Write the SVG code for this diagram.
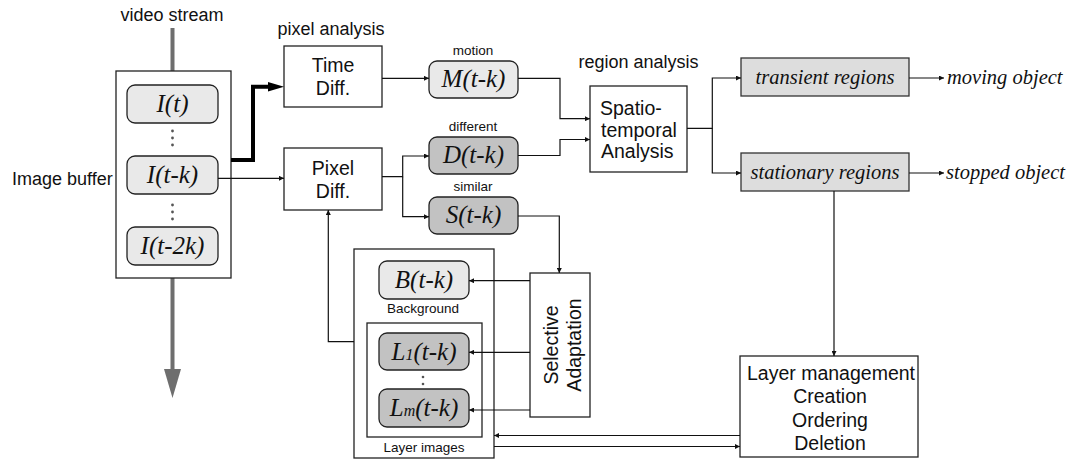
<svg xmlns="http://www.w3.org/2000/svg" width="1073" height="459" viewBox="0 0 1073 459">
  <defs>
    <marker id="arr" viewBox="0 0 10 10" refX="10" refY="5" markerWidth="8" markerHeight="5" markerUnits="userSpaceOnUse" orient="auto">
      <path d="M0,0 L10,5 L0,10 Z" fill="#111"/>
    </marker>
  </defs>
  <style>
    .box { fill: #fff; stroke: #222; stroke-width: 1.3; }
    .light { fill: #e9e9e9; stroke: #222; stroke-width: 1.3; }
    .dark { fill: #c2c2c2; stroke: #222; stroke-width: 1.3; }
    .mid { fill: #dddddd; stroke: #333; stroke-width: 1.3; }
    .wire { fill: none; stroke: #111; stroke-width: 1.2; }
    .sans { font-family: "Liberation Sans", Arial, sans-serif; font-size: 19.5px; fill: #111; }
    .head { font-family: "Liberation Sans", Arial, sans-serif; font-size: 18px; fill: #111; }
    .small { font-family: "Liberation Sans", Arial, sans-serif; font-size: 13.5px; fill: #111; }
    .math { font-family: "Liberation Serif", "Times New Roman", serif; font-style: italic; font-size: 25px; fill: #111; }
    .ital { font-family: "Liberation Serif", "Times New Roman", serif; font-style: italic; font-size: 20.5px; fill: #111; }
    .dots { fill: #555; }
  </style>

  <rect width="1073" height="459" fill="#fff"/>

  <!-- video stream passing through the buffer -->
  <g id="stream">
    <text class="head" x="172" y="21" text-anchor="middle" font-size="19">video stream</text>
    <line x1="172.5" y1="28" x2="172.5" y2="372" stroke="#6e6e6e" stroke-width="4"/>
    <polygon points="164,369 181,369 172.5,398" fill="#6e6e6e"/>
  </g>

  <!-- image buffer -->
  <g id="image-buffer">
    <text class="head" x="12" y="185" font-size="17.5">Image buffer</text>
    <rect class="box" x="116" y="71" width="115" height="207"/>
    <rect class="light" x="127" y="85" width="91" height="38" rx="8"/>
    <text class="math" x="172.5" y="112" text-anchor="middle">I(t)</text>
    <circle class="dots" cx="172.5" cy="131" r="1.4"/>
    <circle class="dots" cx="172.5" cy="138" r="1.4"/>
    <circle class="dots" cx="172.5" cy="145" r="1.4"/>
    <rect class="light" x="127" y="156" width="91" height="38" rx="8"/>
    <text class="math" x="172.5" y="183" text-anchor="middle">I(t-k)</text>
    <circle class="dots" cx="172.5" cy="205" r="1.4"/>
    <circle class="dots" cx="172.5" cy="212" r="1.4"/>
    <circle class="dots" cx="172.5" cy="219" r="1.4"/>
    <rect class="light" x="127" y="227" width="91" height="38" rx="8"/>
    <text class="math" x="172.5" y="254" text-anchor="middle">I(t-2k)</text>
  </g>

  <!-- pixel analysis -->
  <g id="time-diff">
    <text class="head" x="331" y="35" text-anchor="middle">pixel analysis</text>
    <rect class="box" x="284" y="46" width="98" height="61"/>
    <text class="sans" x="333" y="72" text-anchor="middle">Time</text>
    <text class="sans" x="333" y="95" text-anchor="middle">Diff.</text>
  </g>
  <g id="pixel-diff">
    <rect class="box" x="284" y="148" width="98" height="62"/>
    <text class="sans" x="333" y="175" text-anchor="middle">Pixel</text>
    <text class="sans" x="333" y="198" text-anchor="middle">Diff.</text>
  </g>

  <g id="motion">
    <text class="small" x="473" y="55" text-anchor="middle">motion</text>
    <rect class="light" x="429" y="61" width="89" height="37" rx="8"/>
    <text class="math" x="473.5" y="87" text-anchor="middle">M(t-k)</text>
  </g>
  <g id="different">
    <text class="small" x="473" y="131" text-anchor="middle">different</text>
    <rect class="dark" x="429" y="137" width="89" height="37" rx="8"/>
    <text class="math" x="473.5" y="163" text-anchor="middle">D(t-k)</text>
  </g>
  <g id="similar">
    <text class="small" x="473" y="191" text-anchor="middle">similar</text>
    <rect class="dark" x="429" y="197" width="89" height="37" rx="8"/>
    <text class="math" x="473.5" y="223" text-anchor="middle">S(t-k)</text>
  </g>

  <!-- region analysis -->
  <g id="spatio-temporal">
    <text class="head" x="638.5" y="68" text-anchor="middle" font-size="17.5">region analysis</text>
    <rect class="box" x="590" y="86" width="97" height="86"/>
    <text class="sans" x="600" y="115">Spatio-</text>
    <text class="sans" x="601" y="137">temporal</text>
    <text class="sans" x="601" y="158">Analysis</text>
  </g>
  <g id="transient">
    <rect class="mid" x="741" y="58" width="168" height="38"/>
    <text class="ital" x="825" y="84" text-anchor="middle">transient regions</text>
    <text class="ital" x="947" y="84">moving object</text>
  </g>
  <g id="stationary">
    <rect class="mid" x="741" y="153" width="168" height="38"/>
    <text class="ital" x="825" y="179" text-anchor="middle">stationary regions</text>
    <text class="ital" x="946" y="179">stopped object</text>
  </g>

  <!-- layer images -->
  <g id="layer-images">
    <rect class="box" x="354" y="249" width="140" height="209"/>
    <rect class="light" x="379" y="261" width="90" height="38" rx="8"/>
    <text class="math" x="424" y="288" text-anchor="middle">B(t-k)</text>
    <text class="small" x="423" y="313" text-anchor="middle" font-size="13.5">Background</text>
    <rect class="box" x="367" y="323" width="115" height="114"/>
    <rect class="dark" x="379" y="333" width="90" height="37" rx="8"/>
    <text class="math" x="424" y="360" text-anchor="middle">L<tspan font-size="16">1</tspan>(t-k)</text>
    <circle class="dots" cx="423" cy="377" r="1.3"/>
    <circle class="dots" cx="423" cy="384" r="1.3"/>
    <rect class="dark" x="379" y="389" width="90" height="38" rx="8"/>
    <text class="math" x="424" y="416" text-anchor="middle">L<tspan font-size="16">m</tspan>(t-k)</text>
    <text class="small" x="424" y="452" text-anchor="middle" font-size="13.5">Layer images</text>
  </g>

  <g id="selective-adaptation">
    <rect class="box" x="530" y="273" width="60" height="144"/>
    <text class="sans" transform="translate(558,345) rotate(-90)" text-anchor="middle" font-size="20">Selective</text>
    <text class="sans" transform="translate(581,345) rotate(-90)" text-anchor="middle" font-size="20">Adaptation</text>
  </g>

  <g id="layer-management">
    <rect class="box" x="740" y="356" width="178" height="101"/>
    <text class="sans" x="831" y="380" text-anchor="middle">Layer management</text>
    <text class="sans" x="830" y="403" text-anchor="middle">Creation</text>
    <text class="sans" x="830" y="427" text-anchor="middle">Ordering</text>
    <text class="sans" x="830" y="450" text-anchor="middle">Deletion</text>
  </g>

  <!-- connectors -->
  <g id="connectors">
    <path d="M231,160 H253 V86.7 H270" fill="none" stroke="#000" stroke-width="4"/>
    <polygon points="268,82 284,86.7 268,91.4" fill="#000"/>
    <path class="wire" d="M218,178.3 H284" marker-end="url(#arr)"/>
    <path class="wire" d="M382,78.3 H429" marker-end="url(#arr)"/>
    <path class="wire" d="M382,176.7 H402.7 V156 H429" marker-end="url(#arr)"/>
    <path class="wire" d="M402.7,176.7 V216.7 H429" marker-end="url(#arr)"/>
    <path class="wire" d="M518,78.3 H560 V118.7 H590" marker-end="url(#arr)"/>
    <path class="wire" d="M518,155.5 H560 V139.5 H590" marker-end="url(#arr)"/>
    <path class="wire" d="M687,128.3 H712.3 V78 H741" marker-end="url(#arr)"/>
    <path class="wire" d="M712.3,128.3 V173 H741" marker-end="url(#arr)"/>
    <path class="wire" d="M909,78 H944" marker-end="url(#arr)"/>
    <path class="wire" d="M909,173 H944" marker-end="url(#arr)"/>
    <path class="wire" d="M834,191 V356" marker-end="url(#arr)"/>
    <path class="wire" d="M518,216 H559.3 V273" marker-end="url(#arr)"/>
    <path class="wire" d="M530,280.7 H469" marker-end="url(#arr)"/>
    <path class="wire" d="M530,352.3 H469" marker-end="url(#arr)"/>
    <path class="wire" d="M530,410 H469" marker-end="url(#arr)"/>
    <path class="wire" d="M354,341.7 H328.3 V210" marker-end="url(#arr)"/>
    <path class="wire" d="M740,435.5 H494" marker-end="url(#arr)"/>
    <path class="wire" d="M494,446.5 H740" marker-end="url(#arr)"/>
  </g>
</svg>
